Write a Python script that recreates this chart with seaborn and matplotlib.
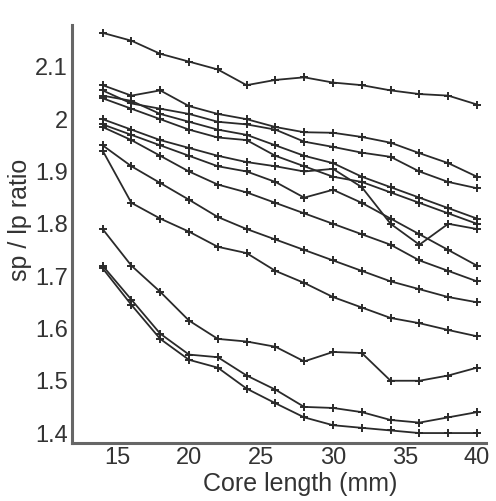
import matplotlib
matplotlib.use("Agg")
import matplotlib.pyplot as plt
import seaborn as sns
import pandas as pd

lengths = [14, 16, 18, 20, 22, 24, 26, 28, 30, 32, 34, 36, 38, 40]

s01 = [2.165, 2.15, 2.125, 2.11, 2.095, 2.065, 2.075, 2.08, 2.07, 2.065, 2.055, 2.048, 2.045, 2.028]
s02 = [2.065, 2.045, 2.055, 2.025, 2.01, 2.00, 1.985, 1.975, 1.974, 1.966, 1.955, 1.935, 1.916, 1.89]
s03 = [2.055, 2.03, 2.02, 2.01, 1.995, 1.99, 1.98, 1.957, 1.947, 1.936, 1.928, 1.90, 1.88, 1.868]
s04 = [2.045, 2.035, 2.01, 1.995, 1.98, 1.97, 1.95, 1.93, 1.916, 1.89, 1.87, 1.85, 1.83, 1.81]
s05 = [2.04, 2.02, 2.00, 1.98, 1.965, 1.96, 1.93, 1.91, 1.89, 1.88, 1.86, 1.84, 1.82, 1.80]
s06 = [2.00, 1.98, 1.96, 1.945, 1.93, 1.918, 1.91, 1.90, 1.905, 1.87, 1.80, 1.76, 1.80, 1.79]
s07 = [1.99, 1.97, 1.95, 1.93, 1.91, 1.90, 1.88, 1.85, 1.865, 1.84, 1.81, 1.78, 1.75, 1.72]
s08 = [1.985, 1.96, 1.93, 1.90, 1.875, 1.86, 1.84, 1.82, 1.80, 1.78, 1.76, 1.73, 1.71, 1.69]
s09 = [1.95, 1.91, 1.878, 1.846, 1.813, 1.79, 1.77, 1.75, 1.73, 1.71, 1.69, 1.675, 1.66, 1.65]
s10 = [1.94, 1.84, 1.81, 1.785, 1.756, 1.744, 1.71, 1.687, 1.66, 1.64, 1.62, 1.61, 1.597, 1.585]
s11 = [1.79, 1.72, 1.67, 1.615, 1.58, 1.575, 1.565, 1.537, 1.555, 1.553, 1.50, 1.50, 1.51, 1.525]
s12 = [1.72, 1.655, 1.59, 1.55, 1.545, 1.51, 1.483, 1.45, 1.448, 1.44, 1.425, 1.42, 1.43, 1.44]
s13 = [1.715, 1.645, 1.58, 1.54, 1.525, 1.485, 1.457, 1.43, 1.415, 1.41, 1.405, 1.40, 1.40, 1.40]

series = [s01, s02, s03, s04, s05, s06, s07, s08, s09, s10, s11, s12, s13]

xticks = [15, 20, 25, 30, 35, 40]
yticks = [1.4, 1.5, 1.6, 1.7, 1.8, 1.9, 2.0, 2.1]
yticklabels = ["1.4", "1.5", "1.6", "1.7", "1.8", "1.9", "2", "2.1"]

rows = []
for i, s in enumerate(series):
    for x, y in zip(lengths, s):
        rows.append({"series": i, "length": x, "ratio": y})
df = pd.DataFrame(rows)

sns.set_style("white")
plt.rcParams["font.family"] = ["Liberation Sans", "DejaVu Sans"]

fig = plt.figure(figsize=(4.96, 5.01), dpi=100)
ax = fig.add_axes([72 / 496, 58 / 501, (486 - 72) / 496, (443 - 25) / 501])

line_color = "#2a2a2a"
sns.lineplot(data=df, x="length", y="ratio", units="series", estimator=None,
             color=line_color, linewidth=1.3, marker="+", markersize=6,
             markeredgewidth=1.4, markeredgecolor=line_color,
             markerfacecolor=line_color, ax=ax, legend=False)

ax.set_xlim(11.875, 40.625)
ax.set_ylim(1.381, 2.18)
ax.set_xticks(xticks)
ax.set_xticklabels([str(t) for t in xticks])
ax.set_yticks(yticks)
ax.set_yticklabels(yticklabels)

for side in ["top", "right"]:
    ax.spines[side].set_visible(False)
for side in ["left", "bottom"]:
    ax.spines[side].set_color("#666666")
    ax.spines[side].set_linewidth(2.2)

ax.tick_params(axis="both", direction="in", length=4, width=1.2, color="#666666",
               labelsize=17, labelcolor="#333333", pad=3)
ax.set_xlabel("Core length (mm)", fontsize=18, color="#333333", va="top")
ax.xaxis.set_label_coords((300 - 72) / 414, (443 - 472) / 418)
ax.set_ylabel("sp / lp ratio", fontsize=18, color="#333333")
ax.yaxis.set_label_coords((32 - 72) / 414, (443 - 220) / 418)

fig.savefig("out.png", dpi=100, facecolor="white")
